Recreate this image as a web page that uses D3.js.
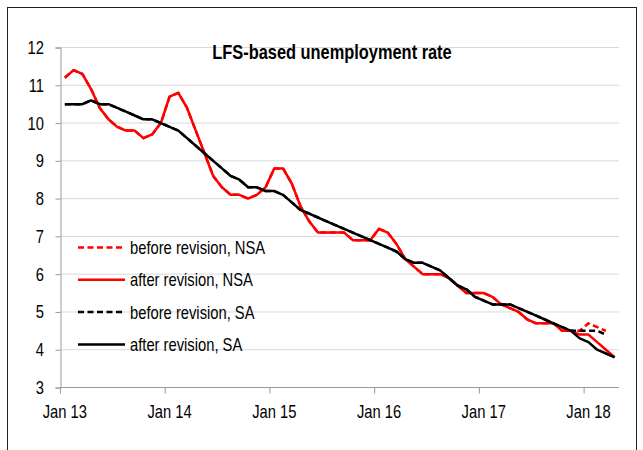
<!DOCTYPE html>
<html>
<head>
<meta charset="utf-8">
<script src="https://cdn.jsdelivr.net/npm/d3@7/dist/d3.min.js"></script>
<style>
  body { margin: 0; background: #fff; }
  text { font-family: "Liberation Sans", Arial, sans-serif; }
</style>
</head>
<body>
<div id="chart"></div>
<script>
// monthly values, Jan 13 .. Apr 18
var afterNSA = [11.2, 11.4, 11.3, 10.9, 10.4, 10.1, 9.9, 9.8, 9.8, 9.6, 9.7, 10.0,
                10.7, 10.8, 10.4, 9.8, 9.2, 8.6, 8.3, 8.1, 8.1, 8.0, 8.1, 8.3,
                8.8, 8.8, 8.4, 7.8, 7.4, 7.1, 7.1, 7.1, 7.1, 6.9, 6.9, 6.9,
                7.2, 7.1, 6.8, 6.4, 6.2, 6.0, 6.0, 6.0, 5.9, 5.7, 5.5, 5.5,
                5.5, 5.4, 5.2, 5.1, 5.0, 4.8, 4.7, 4.7, 4.7, 4.5, 4.5, 4.4,
                4.4, 4.2, 4.0, 3.8];
var afterSA = [10.5, 10.5, 10.5, 10.6, 10.5, 10.5, 10.4, 10.3, 10.2, 10.1, 10.1, 10.0,
               9.9, 9.8, 9.6, 9.4, 9.2, 9.0, 8.8, 8.6, 8.5, 8.3, 8.3, 8.2,
               8.2, 8.1, 7.9, 7.7, 7.6, 7.5, 7.4, 7.3, 7.2, 7.1, 7.0, 6.9,
               6.8, 6.7, 6.6, 6.4, 6.3, 6.3, 6.2, 6.1, 5.9, 5.7, 5.6, 5.4,
               5.3, 5.2, 5.2, 5.2, 5.1, 5.0, 4.9, 4.8, 4.7, 4.6, 4.5, 4.3,
               4.2, 4.0, 3.9, 3.8];
// before revision series end in Mar 18; only the last months differ
var beforeNSATail = [4.5, 4.5, 4.5, 4.7, 4.6, 4.5];   // Aug 17 .. Mar 18 from index 57
var beforeSATail  = [4.6, 4.5, 4.5, 4.5, 4.5, 4.4];
var tailStart = 57;

var beforeNSA = afterNSA.slice(0, tailStart).concat(beforeNSATail);
var beforeSA  = afterSA.slice(0, tailStart).concat(beforeSATail);

var months = d3.timeMonths(new Date(2013, 0, 1), new Date(2018, 4, 1));
var tickLabels = ["Jan 13", "Jan 14", "Jan 15", "Jan 16", "Jan 17", "Jan 18"];
var yTicks = [3, 4, 5, 6, 7, 8, 9, 10, 11, 12];
var legendNames = ["before revision, NSA", "after revision, NSA", "before revision, SA", "after revision, SA"];

var fullWidth = 643;
var fullHeight = 450;
var margin = {top: 47.5, right: 24, bottom: 62.5, left: 60.5};
var width = fullWidth - margin.left - margin.right;
var height = fullHeight - margin.top - margin.bottom;
var narrow = 0.82;   // the original uses a narrow face

var root = d3.select("#chart")
             .append("svg")
             .attr("width", fullWidth)
             .attr("height", fullHeight);

// text squeezed horizontally to look like a narrow font
function narrowText(sel, x, y, anchor, size, str) {
  return sel.append("text")
            .attr("transform", "translate(" + x + "," + y + ") scale(" + narrow + ",1)")
            .attr("text-anchor", anchor)
            .style("font-size", size + "px")
            .text(str);
}

// outer frame
root.append("rect")
    .attr("x", 7.5)
    .attr("y", 7.5)
    .attr("width", 629)
    .attr("height", 460)
    .attr("fill", "none")
    .attr("stroke", "#222")
    .attr("stroke-width", 1);

var svg = root.append("g")
              .attr("transform", "translate(" + margin.left + "," + margin.top + ")");

var xScale = d3.scaleBand().domain(d3.range(months.length)).range([0, width]);
var yScale = d3.scaleLinear().domain([3, 12]).range([height, 0]);

function xMid(i) { return xScale(i) + xScale.bandwidth() / 2; }

// gridlines
svg.selectAll(".grid")
   .data(yTicks.slice(1))
   .enter()
   .append("line")
   .attr("class", "grid")
   .attr("x1", 0)
   .attr("x2", width)
   .attr("y1", function(d) { return yScale(d); })
   .attr("y2", function(d) { return yScale(d); })
   .attr("stroke", "#d9d9d9")
   .attr("stroke-width", 1);

// y axis
var yAxis = d3.axisLeft(yScale).tickValues(yTicks).tickSize(5).tickFormat("");
var gy = svg.append("g").call(yAxis);
gy.select(".domain").attr("stroke", "#9a9a9a");
gy.selectAll(".tick line").attr("stroke", "#9a9a9a");
yTicks.forEach(function(v) {
  narrowText(svg, -16.5, yScale(v) + 6.5, "end", 18, v);
});

// x axis: ticks at category boundaries of each January, labels centred on the month
var janIdx = d3.range(0, months.length, 12);
var gx = svg.append("g").attr("transform", "translate(0," + height + ")");
gx.append("line")
  .attr("x1", 0).attr("x2", width)
  .attr("y1", 0).attr("y2", 0)
  .attr("stroke", "#9a9a9a");
gx.selectAll(".xt")
  .data(janIdx)
  .enter()
  .append("line")
  .attr("class", "xt")
  .attr("x1", function(d) { return xScale(d); })
  .attr("x2", function(d) { return xScale(d); })
  .attr("y1", 0)
  .attr("y2", 6)
  .attr("stroke", "#9a9a9a");
janIdx.forEach(function(d, i) {
  narrowText(gx, xMid(d), 30, "middle", 18, tickLabels[i]);
});

var line = d3.line()
             .x(function(d, i) { return xMid(i); })
             .y(function(d) { return yScale(d); });

var series = [
  {values: beforeNSA, color: "#ff0000", dash: "6,3.5"},
  {values: afterNSA,  color: "#ff0000", dash: null},
  {values: beforeSA,  color: "#000000", dash: "6,3.5"},
  {values: afterSA,   color: "#000000", dash: null}
];

svg.selectAll(".series")
   .data(series)
   .enter()
   .append("path")
   .attr("class", "series")
   .attr("d", function(d) { return line(d.values); })
   .attr("fill", "none")
   .attr("stroke", function(d) { return d.color; })
   .attr("stroke-width", 2.5)
   .attr("stroke-linejoin", "round")
   .attr("stroke-dasharray", function(d) { return d.dash; });

// title
narrowText(root, 332, 59, "middle", 20, "LFS-based unemployment rate")
  .style("font-weight", "bold");

// legend
var legend = root.selectAll(".leg")
                 .data(series)
                 .enter()
                 .append("g")
                 .attr("class", "leg")
                 .attr("transform", function(d, i) { return "translate(78," + (247.5 + i * 32.3) + ")"; });
legend.append("line")
      .attr("x1", 0).attr("x2", 47)
      .attr("y1", 0).attr("y2", 0)
      .attr("stroke", function(d) { return d.color; })
      .attr("stroke-width", 2.5)
      .attr("stroke-dasharray", function(d) { return d.dash; });
legend.each(function(d, i) {
  narrowText(d3.select(this), 52, 6.5, "start", 18, legendNames[i]);
});
</script>
</body>
</html>
